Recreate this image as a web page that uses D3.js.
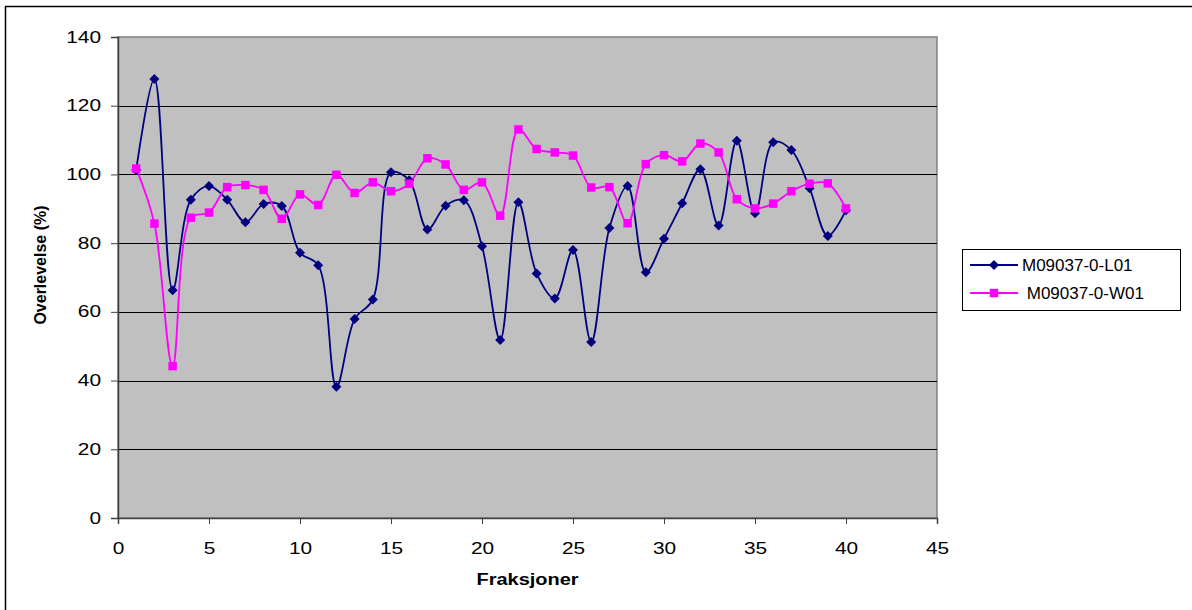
<!DOCTYPE html>
<html lang="no">
<head>
<meta charset="utf-8">
<title>Overlevelse</title>
<script src="https://d3js.org/d3.v7.min.js"></script>
<style>
  body { margin: 0; background: #fff; }
  svg text { font-family: "Liberation Sans", Arial, sans-serif; fill: #000; }
  .tick text { font-size: 16px; }
  .axis-title { font-size: 16px; font-weight: bold; }
  .legend text { font-size: 17px; }
</style>
</head>
<body>
<div id="chart"></div>
<script>
// fraction number (x)
var fractions = d3.range(1, 41);

// survival in %
var seriesL01 = [101.3, 127.8, 66.3, 92.6, 96.6, 92.6, 86.1, 91.4, 90.8, 77.2,
                 73.6, 38.2, 57.9, 63.6, 100.6, 98.3, 84.0, 90.9, 92.5, 79.1,
                 51.8, 91.9, 71.2, 63.9, 78.0, 51.2, 84.4, 96.6, 71.5, 81.3,
                 91.6, 101.5, 85.1, 109.8, 88.7, 109.4, 107.1, 96.0, 82.1, 89.6];
var seriesW01 = [101.7, 85.7, 44.2, 87.4, 88.9, 96.3, 96.9, 95.5, 87.1, 94.2,
                 91.1, 99.9, 94.6, 97.7, 95.1, 97.3, 104.7, 102.9, 95.5, 97.7,
                 88.0, 113.1, 107.4, 106.4, 105.5, 96.2, 96.3, 85.8, 103.0, 105.6,
                 103.8, 109.0, 106.4, 92.8, 90.1, 91.5, 95.1, 97.3, 97.4, 90.1];
var seriesNames = ["M09037-0-L01", " M09037-0-W01"];
var xTicks = d3.range(0, 46, 5);
var yTicks = d3.range(0, 141, 20);

var W = 1192, H = 610;
var plot = {left: 118, top: 37, right: 937, bottom: 518};

var svg = d3.select("#chart").append("svg")
    .attr("width", W)
    .attr("height", H);

// outer chart border (runs off right/bottom)
svg.append("rect")
    .attr("x", 5.5).attr("y", 6.5)
    .attr("width", W).attr("height", H)
    .attr("fill", "#fff")
    .attr("stroke", "#000")
    .attr("stroke-width", 1.5);

var x = d3.scaleLinear().domain([0, 45]).range([plot.left, plot.right]);
var y = d3.scaleLinear().domain([0, 140]).range([plot.bottom, plot.top]);

// plot area
svg.append("rect")
    .attr("x", plot.left).attr("y", plot.top)
    .attr("width", plot.right - plot.left)
    .attr("height", plot.bottom - plot.top)
    .attr("fill", "#c0c0c0")
    .attr("stroke", "#808080")
    .attr("stroke-width", 1.5);

// gridlines
svg.append("g")
  .selectAll("line")
  .data(yTicks.filter(function(d) { return d > 0 && d < 140; }))
  .enter().append("line")
    .attr("x1", plot.left).attr("x2", plot.right)
    .attr("y1", function(d) { return Math.round(y(d)) + 0.5; })
    .attr("y2", function(d) { return Math.round(y(d)) + 0.5; })
    .attr("stroke", "#000")
    .attr("stroke-width", 1);

// axes
var xAxis = svg.append("g")
    .attr("transform", "translate(0," + plot.bottom + ")")
    .call(d3.axisBottom(x).tickValues(xTicks).tickSize(6).tickPadding(19));
var yAxis = svg.append("g")
    .attr("transform", "translate(" + plot.left + ",0)")
    .call(d3.axisLeft(y).tickValues(yTicks).tickSize(7).tickPadding(10));
[xAxis, yAxis].forEach(function(a) {
  a.select(".domain").attr("stroke", "#404040").attr("stroke-width", 1.5);
  a.selectAll(".tick line").attr("stroke", "#404040");
  // excel draws these labels a bit wider
  a.selectAll(".tick text")
      .attr("textLength", function(d) { return String(d).length * 11.6; })
      .attr("lengthAdjust", "spacingAndGlyphs");
});

svg.append("text")
    .attr("class", "axis-title")
    .attr("x", (plot.left + plot.right) / 2)
    .attr("y", 585)
    .attr("text-anchor", "middle")
    .attr("textLength", 102)
    .attr("lengthAdjust", "spacingAndGlyphs")
    .text("Fraksjoner");

svg.append("text")
    .attr("class", "axis-title")
    .attr("transform", "translate(46,265) rotate(-90)")
    .attr("text-anchor", "middle")
    .text("Overlevelse (%)");

// lines
var line = d3.line()
    .x(function(d) { return x(d[0]); })
    .y(function(d) { return y(d[1]); })
    .curve(d3.curveCatmullRom.alpha(0.5));

var colors = ["#000080", "#ff00ff"];
var series = [seriesL01, seriesW01];

series.forEach(function(vals, i) {
  var pts = fractions.map(function(f, j) { return [f, vals[j]]; });
  svg.append("path")
      .datum(pts)
      .attr("d", line)
      .attr("fill", "none")
      .attr("stroke", colors[i])
      .attr("stroke-width", 1.8);
});

var diamond = d3.symbol().type(d3.symbolSquare).size(50);
var square = d3.symbol().type(d3.symbolSquare).size(72);

function drawMarkers(vals, i) {
  svg.append("g")
    .selectAll("path")
    .data(vals)
    .enter().append("path")
      .attr("d", i === 0 ? diamond : square)
      .attr("transform", function(d, j) {
        return "translate(" + x(fractions[j]) + "," + y(d) + ")" + (i === 0 ? " rotate(45)" : "");
      })
      .attr("fill", colors[i]);
}
drawMarkers(seriesL01, 0);
drawMarkers(seriesW01, 1);

// legend
var legend = svg.append("g").attr("class", "legend");
legend.append("rect")
    .attr("x", 962.5).attr("y", 249.5)
    .attr("width", 218).attr("height", 61)
    .attr("fill", "#fff")
    .attr("stroke", "#000")
    .attr("stroke-width", 1);

seriesNames.forEach(function(name, i) {
  var cy = 265 + i * 28;
  legend.append("line")
      .attr("x1", 970).attr("x2", 1018)
      .attr("y1", cy).attr("y2", cy)
      .attr("stroke", colors[i])
      .attr("stroke-width", 1.8);
  legend.append("path")
      .attr("d", i === 0 ? diamond : square)
      .attr("transform", "translate(994," + cy + ")" + (i === 0 ? " rotate(45)" : ""))
      .attr("fill", colors[i]);
  legend.append("text")
      .attr("x", 1022)
      .attr("y", cy)
      .attr("dy", "0.35em")
      .attr("xml:space", "preserve")
      .style("white-space", "pre")
      .text(name);
});
</script>
</body>
</html>
